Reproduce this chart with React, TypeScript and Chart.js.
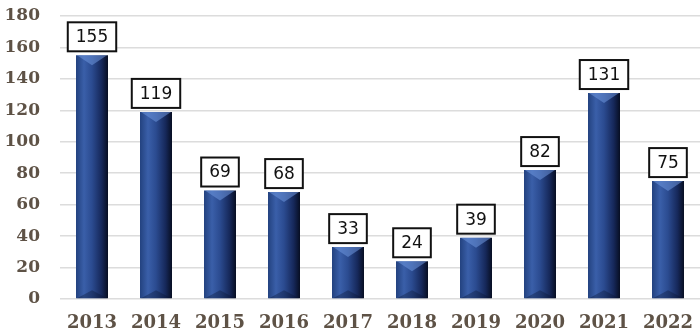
import React, { useEffect, useRef } from "react";
import { Chart, registerables } from "chart.js";

Chart.register(...registerables);

const categories = ["2013", "2014", "2015", "2016", "2017", "2018", "2019", "2020", "2021", "2022"];
const values = [155, 119, 69, 68, 33, 24, 39, 82, 131, 75];
const yMax = 180;
const yStep = 20;

const labelBoxPlugin = {
  id: "labelBoxes",
  afterDatasetsDraw(chart: any) {
    const ctx = chart.ctx;
    const meta = chart.getDatasetMeta(0);
    ctx.save();
    meta.data.forEach((bar: any, i: number) => {
      const { x, y, width, base } = bar.getProps(["x", "y", "width", "base"], true);
      const l = x - width / 2;
      const r = x + width / 2;
      ctx.beginPath();
      ctx.moveTo(l + 1, y);
      ctx.lineTo(r - 1, y);
      ctx.lineTo(x, y + 10);
      ctx.closePath();
      ctx.fillStyle = "rgba(110,150,220,0.55)";
      ctx.fill();
      ctx.beginPath();
      ctx.moveTo(l + 1, base);
      ctx.lineTo(r - 1, base);
      ctx.lineTo(x, base - 8);
      ctx.closePath();
      ctx.fillStyle = "rgba(10,20,50,0.35)";
      ctx.fill();

      const text = String(values[i]);
      ctx.font = "17px 'DejaVu Sans'";
      const tw = ctx.measureText(text).width;
      const bw = tw + 16;
      const bh = 29;
      const bx = x - bw / 2;
      const by = y - 4 - bh;
      ctx.fillStyle = "#ffffff";
      ctx.fillRect(bx, by, bw, bh);
      ctx.lineWidth = 2;
      ctx.strokeStyle = "#111111";
      ctx.strokeRect(bx, by, bw, bh);
      ctx.fillStyle = "#111111";
      ctx.textAlign = "center";
      ctx.textBaseline = "middle";
      ctx.fillText(text, x, by + bh / 2 + 1);
    });
    ctx.restore();
  },
};

export default function App() {
  const ref = useRef<HTMLCanvasElement | null>(null);
  useEffect(() => {
    const canvas = ref.current!;
    const chart = new Chart(canvas, {
      type: "bar",
      data: {
        labels: categories,
        datasets: [
          {
            data: values,
            barPercentage: 0.5,
            categoryPercentage: 1,
            borderWidth: 0,
            backgroundColor: (c: any) => {
              const ch = c.chart;
              const xs = ch.scales && ch.scales.x;
              if (!xs || c.dataIndex === undefined) return "#2a4a8e";
              const cx = xs.getPixelForValue(c.dataIndex);
              if (!isFinite(cx)) return "#2a4a8e";
              const w = 32;
              const g = ch.ctx.createLinearGradient(cx - w / 2, 0, cx + w / 2, 0);
              g.addColorStop(0, "#23427f");
              g.addColorStop(0.25, "#3a5fa9");
              g.addColorStop(0.5, "#2b4b90");
              g.addColorStop(0.8, "#16285a");
              g.addColorStop(1, "#070e22");
              return g;
            },
          },
        ],
      },
      options: {
        animation: false,
        responsive: false,
        maintainAspectRatio: false,
        layout: { padding: { left: 0, right: 0, top: 16, bottom: 0 } },
        plugins: { legend: { display: false }, tooltip: { enabled: false } },
        scales: {
          x: {
            afterFit: (s: any) => {
              s.height = 37;
              s.paddingLeft = 0;
              s.paddingRight = 0;
            },
            grid: { display: false, drawTicks: false },
            border: { display: false },
            ticks: {
              color: "#5e5246",
              padding: 14,
              maxRotation: 0,
              font: { family: "'DejaVu Serif'", size: 18, weight: "bold" },
            },
          },
          y: {
            min: 0,
            max: yMax,
            afterFit: (s: any) => {
              s.width = 60;
              s.paddingTop = 0;
              s.paddingBottom = 0;
            },
            grid: { color: "#dcdcdc", lineWidth: 1.5, drawTicks: false },
            border: { display: false },
            ticks: {
              stepSize: yStep,
              color: "#5e5246",
              padding: 20,
              font: { family: "'DejaVu Serif'", size: 17, weight: "bold" },
            },
          },
        },
      },
      plugins: [labelBoxPlugin],
    });
    return () => chart.destroy();
  }, []);
  return (
    <div style={{ position: "absolute", left: 0, top: 0, width: 700, height: 336 }}>
      <canvas ref={ref} width={700} height={336} style={{ display: "block" }} />
    </div>
  );
}
